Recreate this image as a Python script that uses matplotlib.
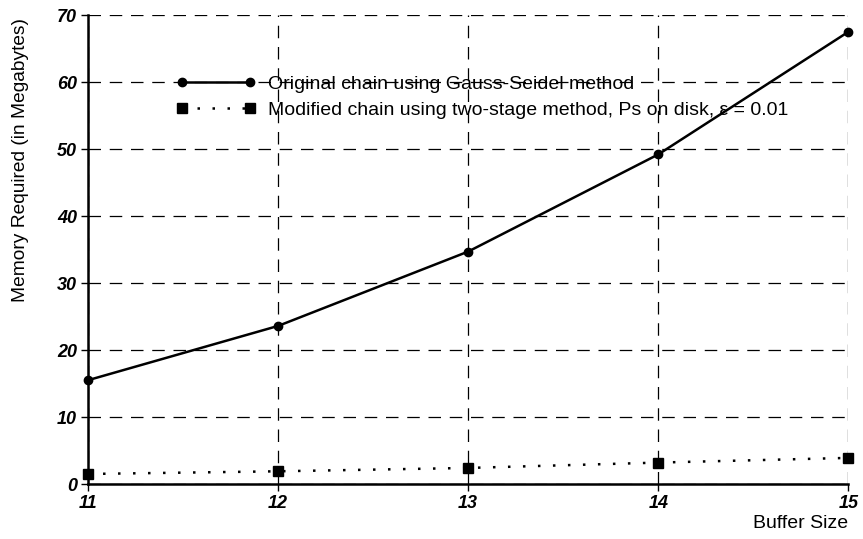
import matplotlib.pyplot as plt

plt.rcParams['font.family'] = ['Liberation Sans', 'DejaVu Sans']

buffer_size = [11, 12, 13, 14, 15]
gauss_seidel = [15.5, 23.6, 34.7, 49.2, 67.5]
two_stage = [1.5, 1.9, 2.4, 3.2, 3.9]
y_ticks = [0, 10, 20, 30, 40, 50, 60, 70]

fig = plt.figure(figsize=(8.63, 5.39), dpi=100)
ax = fig.add_axes([0.102, 0.102, 0.881, 0.870])

ax.plot(buffer_size, gauss_seidel, color='black', lw=1.8, marker='o', ms=6,
        label='Original chain using Gauss-Seidel method', clip_on=False, zorder=3)
ax.plot(buffer_size, two_stage, color='black', lw=1.8, ls=(0, (1, 5)), marker='s', ms=7,
        label='Modified chain using two-stage method, Ps on disk, ε = 0.01',
        clip_on=False, zorder=3)

ax.set_xlim(11, 15)
ax.set_ylim(0, 70)
ax.set_xticks(buffer_size)
ax.set_yticks(y_ticks)

for lbl in ax.get_xticklabels() + ax.get_yticklabels():
    lbl.set_fontweight('bold')
    lbl.set_fontstyle('italic')
    lbl.set_fontsize(13)

ax.tick_params(axis='both', direction='out', length=5, width=1, pad=3)

ax.grid(True, color='black', ls=(0, (10, 7)), lw=0.9)
ax.set_axisbelow(True)
for side in ['top', 'right']:
    ax.spines[side].set_visible(False)
for side in ['left', 'bottom']:
    ax.spines[side].set_linewidth(1.8)

ax.set_ylabel('Memory Required (in Megabytes)', fontsize=13.8)
ax.yaxis.set_label_coords(-0.078, 0.69)
ax.set_xlabel('Buffer Size', fontsize=14)
ax.xaxis.set_label_coords(1.0, -0.066)
ax.xaxis.label.set_horizontalalignment('right')

leg = ax.legend(loc='upper left', bbox_to_anchor=(0.116, 0.872), frameon=False,
                numpoints=2, handlelength=4.1, handletextpad=0.6, fontsize=14,
                labelspacing=0.42, borderaxespad=0, borderpad=0)

fig.savefig('out.png', dpi=100)
